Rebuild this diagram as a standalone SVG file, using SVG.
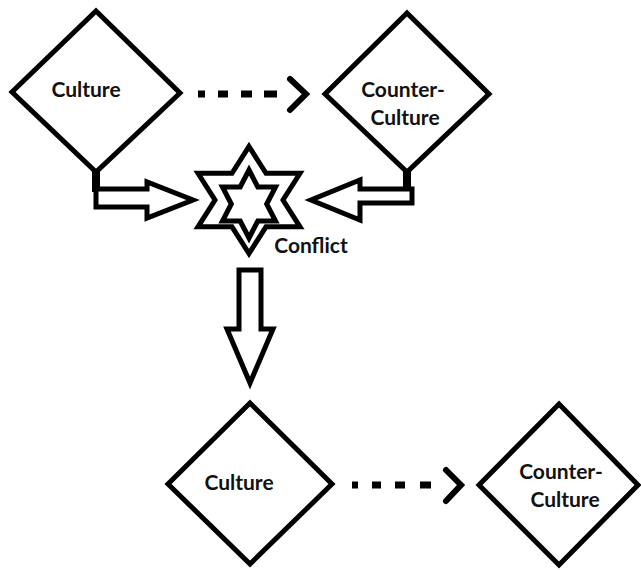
<svg xmlns="http://www.w3.org/2000/svg" width="641" height="570" viewBox="0 0 641 570">
  <style>
    .shape { fill: #fff; stroke: #000; stroke-width: 5; stroke-linejoin: miter; }
    .label { font-family: Lato, "Open Sans", "Liberation Sans", sans-serif; font-weight: 700; font-size: 21px; fill: #111; text-anchor: middle; }
    .dash { stroke: #000; stroke-width: 7; fill: none; stroke-linecap: butt; }
    .chev { stroke: #000; stroke-width: 6; fill: none; stroke-linecap: round; stroke-linejoin: miter; }
    .stub { stroke: #000; stroke-width: 8; fill: none; }
    .block { fill: #fff; stroke: #000; stroke-width: 5; stroke-linejoin: miter; }
  </style>
  <rect width="641" height="570" fill="#fff"/>

  <!-- connectors: dashed arrows, stubs and block arrows -->
  <g id="connectors">
    <!-- top dashed arrow -->
    <line class="dash" x1="198" y1="94" x2="205" y2="94"/>
    <line class="dash" x1="218" y1="94" x2="228" y2="94"/>
    <line class="dash" x1="241" y1="94" x2="252" y2="94"/>
    <line class="dash" x1="264" y1="94" x2="277" y2="94"/>
    <polyline class="chev" points="290,79 306,94 290,110"/>

    <!-- bottom dashed arrow -->
    <line class="dash" x1="352" y1="485" x2="358" y2="485"/>
    <line class="dash" x1="372" y1="485" x2="381" y2="485"/>
    <line class="dash" x1="395" y1="485" x2="405" y2="485"/>
    <line class="dash" x1="420" y1="485" x2="431" y2="485"/>
    <polyline class="chev" points="446,470 461,485 446,501"/>

    <!-- stubs from diamond bottoms -->
    <line class="stub" x1="96" y1="168" x2="96" y2="192"/>
    <line class="stub" x1="407" y1="168" x2="407" y2="191"/>

    <!-- block arrow into conflict from the left -->
    <polygon class="block" points="96,189 147,189 147,182 193,200 147,218 147,207 96,207"/>
    <!-- block arrow into conflict from the right -->
    <polygon class="block" points="412,189 360,189 360,180 311,200 360,220 360,203 412,203"/>
    <!-- block arrow down from conflict -->
    <polygon class="block" points="239,270 261,270 261,329 273,329 250,383 227,329 239,329"/>
  </g>

  <g id="culture-top">
    <polygon class="shape" points="96,11 180,93 96,172 12,92"/>
    <text class="label" x="86" y="97">Culture</text>
  </g>

  <g id="counterculture-top">
    <polygon class="shape" points="407,13 489,94 407,172 325,94"/>
    <text class="label" x="403" y="97">Counter-</text>
    <text class="label" x="405" y="125">Culture</text>
  </g>

  <g id="conflict">
    <!-- outer six-pointed star -->
    <polygon class="shape" points="249,146.5 266,173.3 300,173.3 283,200 300,226.8 266,226.8 249,253.5 232,226.8 198,226.8 215,200 198,173.3 232,173.3"/>
    <!-- inner six-pointed star -->
    <polygon class="shape" points="249,170 257.8,187 275.5,187 266.7,204 275.5,221 257.8,221 249,238 240.2,221 222.5,221 231.3,204 222.5,187 240.2,187"/>
    <text class="label" x="311" y="253">Conflict</text>
  </g>

  <g id="culture-bottom">
    <polygon class="shape" points="250,403 332,484 250,564 168,484"/>
    <text class="label" x="239" y="490">Culture</text>
  </g>

  <g id="counterculture-bottom">
    <polygon class="shape" points="559,404 638,485 559,565 479,485"/>
    <text class="label" x="561" y="479">Counter-</text>
    <text class="label" x="565" y="507">Culture</text>
  </g>
</svg>
